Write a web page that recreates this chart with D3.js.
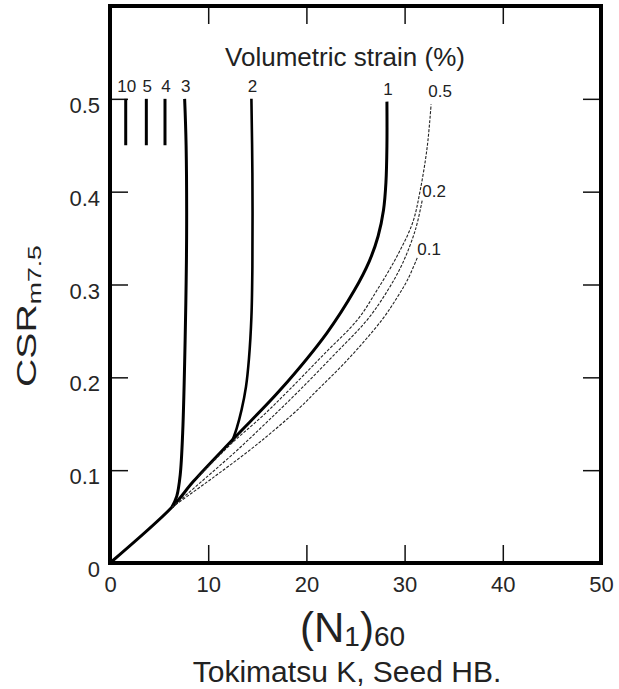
<!DOCTYPE html>
<html>
<head>
<meta charset="utf-8">
<script src="https://cdn.jsdelivr.net/npm/d3@7"></script>
<style>
  body { margin: 0; background: #fff; }
  svg { display: block; font-family: "Liberation Sans", Arial, sans-serif; }
</style>
</head>
<body>
<svg width="619" height="689"></svg>
<script>
const width = 619
const height = 689

// tick values
const xTicks = [0, 10, 20, 30, 40, 50]
const yTicks = [0, 0.1, 0.2, 0.3, 0.4, 0.5]

// volumetric strain curves, [ (N1)60, CSR ]
const strain10 = [[1.6, 0.45], [1.6, 0.5]]
const strain5 = [[3.7, 0.45], [3.7, 0.5]]
const strain4 = [[5.6, 0.45], [5.6, 0.5]]
const strain3 = [[6.3, 0.06], [6.8, 0.072], [7.15, 0.095], [7.4, 0.14], [7.65, 0.24], [7.8, 0.35], [7.75, 0.45], [7.6, 0.5]]
const strain2 = [[12.4, 0.13], [12.9, 0.145], [13.4, 0.165], [13.85, 0.19], [14.15, 0.22], [14.4, 0.265], [14.5, 0.32], [14.5, 0.42], [14.4, 0.5]]
const strain1 = [[0, 0], [6.3, 0.06], [8.5, 0.088], [12.5, 0.133], [17.3, 0.186], [22.1, 0.248], [24.9, 0.294], [26.4, 0.325], [27.3, 0.352], [27.85, 0.38], [28.1, 0.41], [28.2, 0.45], [28.2, 0.497]]
const strain05 = [[9, 0.093], [12.5, 0.13], [15.5, 0.158], [18.3, 0.187], [21.8, 0.225], [25.2, 0.262], [27.2, 0.294], [29.2, 0.33], [30.8, 0.366], [31.6, 0.402], [32.3, 0.448], [32.7, 0.494]]
const strain02 = [[6.3, 0.06], [10, 0.094], [13, 0.122], [16, 0.152], [19.3, 0.186], [22.8, 0.224], [26.2, 0.262], [28.3, 0.294], [29.8, 0.323], [31.1, 0.359], [31.8, 0.391]]
const strain01 = [[6.3, 0.06], [10.5, 0.092], [15, 0.128], [19.3, 0.167], [21, 0.185], [24.2, 0.219], [27.7, 0.262], [29.3, 0.287], [30.3, 0.305], [31.3, 0.329]]

const curves = [
  { label: '10', points: strain10, kind: 'solid' },
  { label: '5', points: strain5, kind: 'solid' },
  { label: '4', points: strain4, kind: 'solid' },
  { label: '3', points: strain3, kind: 'solid' },
  { label: '2', points: strain2, kind: 'solid' },
  { label: '1', points: strain1, kind: 'solid' },
  { label: '0.5', points: strain05, kind: 'dashed' },
  { label: '0.2', points: strain02, kind: 'dashed' },
  { label: '0.1', points: strain01, kind: 'dashed' },
]

const svg = d3.select('svg')
const plotLeft = 110, plotRight = 601, plotTop = 6, plotBottom = 563

const x = d3.scaleLinear().domain([0, 50]).range([plotLeft, plotRight])
const y = d3.scaleLinear().domain([0, 0.6]).range([plotBottom, plotTop])

const tickLen = 18

// axes with inward ticks
svg.append('g')
  .attr('transform', `translate(0,${plotBottom})`)
  .call(d3.axisBottom(x).tickValues(xTicks).tickSize(-tickLen).tickPadding(13)
    .tickFormat(d3.format('d')))
const leftAxis = svg.append('g')
  .attr('transform', `translate(${plotLeft},0)`)
  .call(d3.axisLeft(y).tickValues(yTicks).tickSize(-tickLen).tickPadding(10)
    .tickFormat(d => d === 0 ? '0' : d3.format('.1f')(d)))
svg.append('g')
  .attr('transform', `translate(0,${plotTop})`)
  .call(d3.axisTop(x).tickValues(xTicks.slice(1, -1)).tickSize(-tickLen).tickFormat(''))
svg.append('g')
  .attr('transform', `translate(${plotRight},0)`)
  .call(d3.axisRight(y).tickValues(yTicks.slice(1)).tickSize(-tickLen).tickFormat(''))

svg.selectAll('.domain').remove()
svg.selectAll('.tick line').attr('stroke', '#111').attr('stroke-width', 1.5)
svg.selectAll('.tick text')
  .attr('font-family', '"Liberation Sans", Arial, sans-serif')
  .attr('font-size', 22)
  .attr('fill', '#262626')
leftAxis.selectAll('.tick text').attr('dy', '0.62em')

// frame
svg.append('rect')
  .attr('x', plotLeft)
  .attr('y', plotTop)
  .attr('width', plotRight - plotLeft)
  .attr('height', plotBottom - plotTop)
  .attr('fill', 'none')
  .attr('stroke', '#000')
  .attr('stroke-width', 4)

const line = d3.line()
  .x(d => x(d[0]))
  .y(d => y(d[1]))
  .curve(d3.curveCatmullRom.alpha(0.5))

curves.forEach(c => {
  const solid = c.kind === 'solid'
  svg.append('path')
    .attr('d', line(c.points))
    .attr('fill', 'none')
    .attr('stroke', solid ? '#000' : '#222')
    .attr('stroke-width', solid ? (c.label === '2' ? 2.6 : 3) : 1.1)
    .attr('stroke-dasharray', solid ? null : '3,1.5')
    .attr('stroke-linecap', 'butt')

  const end = c.points[c.points.length - 1]
  const onTop = end[1] > 0.48
  svg.append('text')
    .attr('x', x(end[0]) + (onTop ? (solid ? 1 : 9) : 0))
    .attr('y', y(end[1]) + (onTop ? -7 : -3))
    .attr('text-anchor', onTop ? 'middle' : 'start')
    .attr('font-size', 17)
    .attr('fill', '#222')
    .text(c.label)
})

// titles
svg.append('text')
  .attr('x', 345)
  .attr('y', 66)
  .attr('text-anchor', 'middle')
  .attr('font-size', 26)
  .attr('fill', '#222')
  .text('Volumetric strain (%)')

const xLabel = svg.append('text')
  .attr('x', (plotLeft + plotRight) / 2 - 3)
  .attr('y', 642)
  .attr('text-anchor', 'middle')
  .attr('font-size', 42)
  .attr('fill', '#222')
xLabel.append('tspan').text('(N')
xLabel.append('tspan').attr('font-size', 28).attr('dy', 4).text('1')
xLabel.append('tspan').attr('dy', -4).text(')')
xLabel.append('tspan').attr('font-size', 28).attr('dy', 4).text('60')

const yLabel = svg.append('text')
  .attr('transform', 'translate(36,387) rotate(-90) scale(1.4,1)')
  .attr('font-size', 28)
  .attr('fill', '#222')
yLabel.append('tspan').text('CSR')
yLabel.append('tspan').attr('font-size', 19).attr('dy', 5).text('m7.5')

svg.append('text')
  .attr('x', 347)
  .attr('y', 682)
  .attr('text-anchor', 'middle')
  .attr('font-size', 30)
  .attr('fill', '#222')
  .text('Tokimatsu K, Seed HB.')
</script>
</body>
</html>
